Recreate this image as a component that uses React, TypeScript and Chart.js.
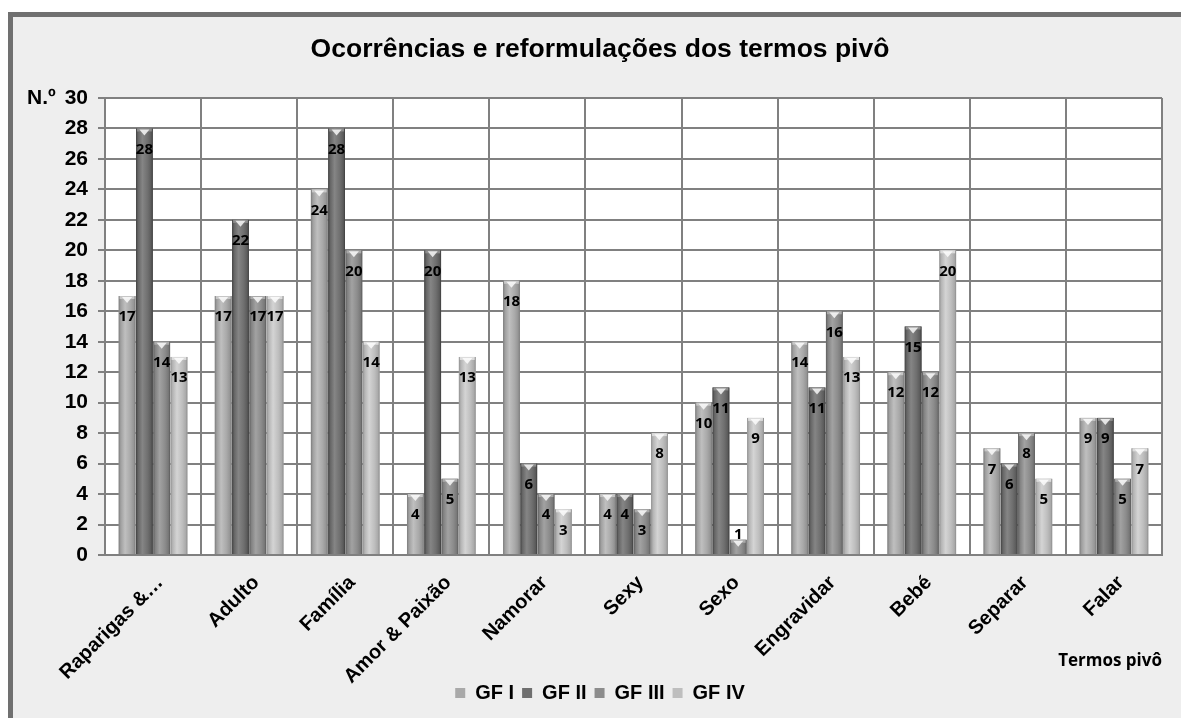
import React, { useEffect, useRef } from 'react';
import { Chart, registerables } from 'chart.js';

Chart.register(...registerables);

const categories = ['Raparigas &…', 'Adulto', 'Família', 'Amor & Paixão', 'Namorar', 'Sexy', 'Sexo', 'Engravidar', 'Bebé', 'Separar', 'Falar'];
const gf1 = [17, 17, 24, 4, 18, 4, 10, 14, 12, 7, 9];
const gf2 = [28, 22, 28, 20, 6, 4, 11, 11, 15, 6, 9];
const gf3 = [14, 17, 20, 5, 4, 3, 1, 16, 12, 8, 5];
const gf4 = [13, 17, 14, 13, 3, 8, 9, 13, 20, 5, 7];
const seriesNames = ['GF I', 'GF II', 'GF III', 'GF IV'];
const seriesValues = [gf1, gf2, gf3, gf4];
const seriesColors = ['#a9a9a9', '#6f6f6f', '#8c8c8c', '#bebebe'];
const yMin = 0;
const yMax = 30;
const yStep = 2;
const chartTitle = 'Ocorrências e reformulações dos termos pivô';
const xTitle = 'Termos pivô';
const yTitle = 'N.º';

const SANS = "'Liberation Sans', Arial, sans-serif";
const LABEL_FONT = "'Open Sans', 'Noto Sans', sans-serif";
const X_LABEL_EXTRA = 43;

function shade(hex: string, amt: number): string {
  const n = parseInt(hex.slice(1), 16);
  const c = (v: number) => Math.max(0, Math.min(255, v + amt));
  const r = c((n >> 16) & 255);
  const g = c((n >> 8) & 255);
  const b = c(n & 255);
  return `rgb(${r},${g},${b})`;
}

const framePlugin = {
  id: 'frame',
  afterLayout(chart: any) {
    // let the rotated category labels extend below the axis box (over the legend band)
    const xs = chart.scales.x;
    xs.bottom = xs.bottom + X_LABEL_EXTRA;
  },
  beforeDraw(chart: any) {
    const { ctx, width, height, chartArea } = chart;
    ctx.save();
    ctx.fillStyle = '#ffffff';
    ctx.fillRect(0, 0, width, height);
    ctx.fillStyle = '#707070';
    ctx.fillRect(8, 12, width - 8, height - 12);
    ctx.fillStyle = '#eeeeee';
    ctx.fillRect(13, 17, width - 13, height - 17);
    ctx.fillStyle = '#ffffff';
    ctx.fillRect(chartArea.left, chartArea.top, chartArea.right - chartArea.left, chartArea.bottom - chartArea.top);
    ctx.restore();
  },
};

const barStylePlugin = {
  id: 'barStyle',
  afterDatasetsDraw(chart: any) {
    const ctx = chart.ctx;
    ctx.save();
    chart.data.datasets.forEach((ds: any, di: number) => {
      const meta = chart.getDatasetMeta(di);
      const col = seriesColors[di];
      meta.data.forEach((el: any) => {
        const { x, y, base, width } = el.getProps(['x', 'y', 'base', 'width'], true);
        const l = x - width / 2;
        const g = ctx.createLinearGradient(l, 0, l + width, 0);
        g.addColorStop(0, shade(col, -45));
        g.addColorStop(0.12, shade(col, -10));
        g.addColorStop(0.38, shade(col, 22));
        g.addColorStop(0.7, shade(col, 0));
        g.addColorStop(0.9, shade(col, -20));
        g.addColorStop(1, shade(col, -50));
        ctx.fillStyle = g;
        ctx.fillRect(l, y, width, base - y);
        ctx.fillStyle = shade(col, 30);
        ctx.fillRect(l + 1, y, width - 2, 3);
        ctx.fillStyle = 'rgba(255,255,255,0.8)';
        ctx.beginPath();
        ctx.moveTo(x - width * 0.3, y + 1);
        ctx.lineTo(x + width * 0.3, y + 1);
        ctx.lineTo(x, y + 7);
        ctx.closePath();
        ctx.fill();
      });
    });
    ctx.fillStyle = '#000000';
    ctx.font = `bold 15px ${LABEL_FONT}`;
    ctx.textAlign = 'center';
    ctx.textBaseline = 'middle';
    chart.data.datasets.forEach((ds: any, di: number) => {
      const meta = chart.getDatasetMeta(di);
      meta.data.forEach((el: any, i: number) => {
        const { x, y, base } = el.getProps(['x', 'y', 'base'], true);
        let ly = y + 21;
        if (ly > base - 8) ly = y - 5;
        ctx.fillText(String(ds.data[i]), x, ly);
      });
    });
    ctx.restore();
  },
};

const yTitlePlugin = {
  id: 'yTitleTop',
  afterDraw(chart: any) {
    const ctx = chart.ctx;
    const ys = chart.scales.y;
    ctx.save();
    ctx.fillStyle = '#000000';
    ctx.font = `bold 21px ${SANS}`;
    ctx.textAlign = 'left';
    ctx.textBaseline = 'middle';
    ctx.fillText(yTitle, 27, ys.getPixelForValue(yMax));
    ctx.restore();
  },
};

export default function App() {
  const ref = useRef<HTMLCanvasElement | null>(null);

  useEffect(() => {
    if (!ref.current) return;
    const chart = new Chart(ref.current, {
      type: 'bar',
      data: {
        labels: categories,
        datasets: seriesNames.map((name, i) => ({
          label: name,
          data: seriesValues[i],
          backgroundColor: seriesColors[i],
          borderWidth: 0,
          categoryPercentage: 0.72,
          barPercentage: 0.97,
        })),
      },
      options: {
        responsive: false,
        animation: false,
        devicePixelRatio: 1,
        layout: { padding: { left: 38, right: 19, top: 17, bottom: 5 } },
        plugins: {
          title: {
            display: true,
            text: chartTitle,
            color: '#000000',
            font: { family: SANS, size: 26.5, weight: 'bold' },
            padding: { top: 17, bottom: 32.2 },
          },
          legend: {
            position: 'bottom',
            labels: {
              boxWidth: 10,
              boxHeight: 10,
              padding: 8,
              color: '#000000',
              font: { family: SANS, size: 20, weight: 'bold' },
            },
          },
          tooltip: { enabled: false },
        },
        scales: {
          x: {
            offset: true,
            grid: { color: '#808080', lineWidth: 2, drawTicks: false, offset: true },
            border: { color: '#808080', width: 2 },
            ticks: {
              color: '#000000',
              font: { family: SANS, size: 20, weight: 'bold' },
              minRotation: 45,
              maxRotation: 45,
              autoSkip: false,
              padding: 16,
              labelOffset: 7,
            },
            title: {
              display: true,
              text: xTitle,
              align: 'end',
              color: '#000000',
              font: { family: LABEL_FONT, size: 17, weight: 'bold' },
              padding: { top: 0, bottom: 4 + X_LABEL_EXTRA },
            },
            afterFit(scale: any) {
              scale.height = 120;
            },
          },
          y: {
            min: yMin,
            max: yMax,
            grid: { color: '#808080', lineWidth: 2, tickLength: 7 },
            border: { color: '#808080', width: 2 },
            ticks: {
              stepSize: yStep,
              color: '#000000',
              font: { family: SANS, size: 21, weight: 'bold' },
              padding: 10,
            },
            afterFit(scale: any) {
              scale.width = 67;
            },
          },
        },
      },
      plugins: [framePlugin, barStylePlugin, yTitlePlugin],
    });
    return () => chart.destroy();
  }, []);

  return (
    <div style={{ position: 'fixed', left: 0, top: 0, width: 1181, height: 718 }}>
      <canvas ref={ref} width={1181} height={718} style={{ display: 'block' }} />
    </div>
  );
}
